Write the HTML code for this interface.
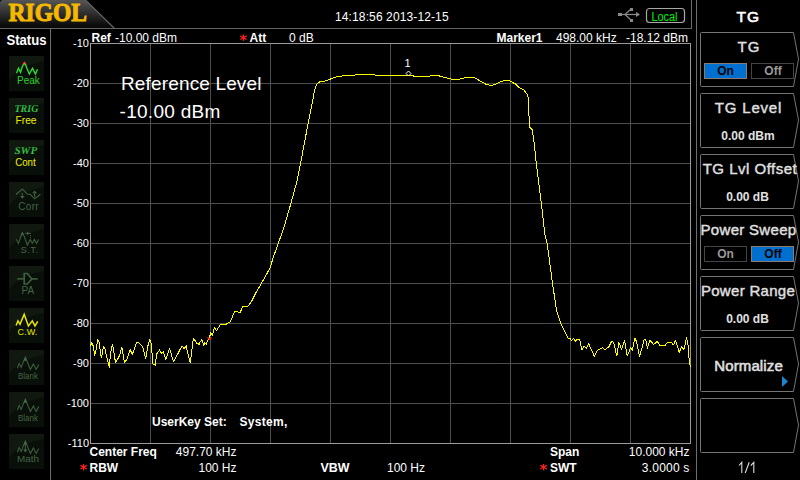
<!DOCTYPE html>
<html><head><meta charset="utf-8"><style>
html,body{margin:0;padding:0;background:#000;}
body{width:800px;height:480px;overflow:hidden;position:relative;font-family:"Liberation Sans", sans-serif;}
svg{position:absolute;left:0;top:0;font-family:"Liberation Sans", sans-serif;}

</style></head><body>
<svg width="800" height="480" viewBox="0 0 800 480">
<defs>
<linearGradient id="tab" x1="0" y1="0" x2="0" y2="1"><stop offset="0" stop-color="#555"/><stop offset="0.9" stop-color="#0c0c0c"/><stop offset="1" stop-color="#080808"/></linearGradient>
<linearGradient id="ib" x1="0" y1="0" x2="1" y2="1"><stop offset="0" stop-color="#142014"/><stop offset="0.5" stop-color="#0b140b"/><stop offset="1" stop-color="#070d07"/></linearGradient>
<linearGradient id="gtxt" x1="0" y1="0" x2="0" y2="1"><stop offset="0" stop-color="#1a8a2a"/><stop offset="1" stop-color="#44dd55"/></linearGradient>
</defs>
<!-- header tab -->
<path d="M0,3 Q0,0 3,0 H85.5 L114,28 H0 Z" fill="url(#tab)"/>
<path d="M85.5,0 L114,28" stroke="#626262" stroke-width="1.2" fill="none"/>
<text x="8.5" y="21" font-family='"Liberation Serif", serif' font-weight="bold" font-size="26" fill="#f5b800" stroke="#f5b800" stroke-width="1" textLength="78.5" lengthAdjust="spacingAndGlyphs">RIGOL</text>
<!-- frame lines -->
<g stroke="#6e6e6e" stroke-width="1" fill="none">
<line x1="0" y1="28.5" x2="691" y2="28.5" stroke="#636363"/>
<line x1="691.5" y1="0" x2="691.5" y2="29"/>
<line x1="50.5" y1="28" x2="50.5" y2="480"/>
<line x1="696.5" y1="0" x2="696.5" y2="480" stroke="#6c706c"/>
</g>
<!-- status icon boxes -->
<rect x="9" y="56" width="35" height="35" fill="#090f09"/><path d="M9,56 H44 V61 Q20,65 9,80 Z" fill="#10180f"/><rect x="9" y="98" width="35" height="35" fill="#090f09"/><path d="M9,98 H44 V103 Q20,107 9,122 Z" fill="#10180f"/><rect x="9" y="140" width="35" height="35" fill="#090f09"/><path d="M9,140 H44 V145 Q20,149 9,164 Z" fill="#10180f"/><rect x="9" y="182" width="35" height="35" fill="#090f09"/><path d="M9,182 H44 V187 Q20,191 9,206 Z" fill="#10180f"/><rect x="9" y="224" width="35" height="35" fill="#090f09"/><path d="M9,224 H44 V229 Q20,233 9,248 Z" fill="#10180f"/><rect x="9" y="266" width="35" height="35" fill="#090f09"/><path d="M9,266 H44 V271 Q20,275 9,290 Z" fill="#10180f"/><rect x="9" y="308" width="35" height="35" fill="#090f09"/><path d="M9,308 H44 V313 Q20,317 9,332 Z" fill="#10180f"/><rect x="9" y="350" width="35" height="35" fill="#090f09"/><path d="M9,350 H44 V355 Q20,359 9,374 Z" fill="#10180f"/><rect x="9" y="392" width="35" height="35" fill="#090f09"/><path d="M9,392 H44 V397 Q20,401 9,416 Z" fill="#10180f"/><rect x="9" y="434" width="35" height="35" fill="#090f09"/><path d="M9,434 H44 V439 Q20,443 9,458 Z" fill="#10180f"/>
<!-- grid -->
<g stroke="#4b4f4b" stroke-width="1"><line x1="150.5" y1="43" x2="150.5" y2="443"/><line x1="210.5" y1="43" x2="210.5" y2="443"/><line x1="270.5" y1="43" x2="270.5" y2="443"/><line x1="330.5" y1="43" x2="330.5" y2="443"/><line x1="390.5" y1="43" x2="390.5" y2="443"/><line x1="450.5" y1="43" x2="450.5" y2="443"/><line x1="510.5" y1="43" x2="510.5" y2="443"/><line x1="570.5" y1="43" x2="570.5" y2="443"/><line x1="630.5" y1="43" x2="630.5" y2="443"/><line x1="90" y1="83.5" x2="690" y2="83.5"/><line x1="90" y1="123.5" x2="690" y2="123.5"/><line x1="90" y1="163.5" x2="690" y2="163.5"/><line x1="90" y1="203.5" x2="690" y2="203.5"/><line x1="90" y1="243.5" x2="690" y2="243.5"/><line x1="90" y1="283.5" x2="690" y2="283.5"/><line x1="90" y1="323.5" x2="690" y2="323.5"/><line x1="90" y1="363.5" x2="690" y2="363.5"/><line x1="90" y1="403.5" x2="690" y2="403.5"/></g>
<rect x="90.5" y="43.5" width="600" height="400" fill="none" stroke="#9a9a9a" stroke-width="1"/>
<!-- trace -->
<polyline points="90.6,345.8 91.6,342.7 92.7,343.8 94.8,355.2 95.8,351.0 97.9,339.6 98.9,341.1 101.0,356.2 101.5,357.3 103.6,346.4 104.7,347.9 107.3,359.4 109.4,367.2 110.4,354.2 112.5,344.3 115.6,363.0 119.2,356.2 121.9,347.4 124.5,363.0 127.1,358.9 130.2,349.5 132.3,354.7 136.4,342.7 139.0,342.7 142.7,346.9 145.8,358.9 147.6,346.9 149.7,339.6 151.2,343.8 152.3,356.2 152.8,364.0 155.4,365.1 156.5,354.2 159.6,350.0 161.7,353.6 163.2,351.6 165.8,359.9 169.5,348.4 173.6,362.0 176.8,355.7 182.0,345.8 184.1,349.0 186.1,345.8 190.3,363.0 193.4,338.0 196.6,343.2 199.2,344.3 200.0,342.2 201.7,339.7 202.5,341.8 203.8,345.1 204.6,343.0 206.2,344.2 207.5,340.9 209.4,337.6 210.4,334.2 210.8,332.6 212.5,335.5 213.8,329.7 214.6,328.0 216.5,330.5 220.6,324.3 225.9,324.3 230.4,321.7 234.8,311.0 240.0,312.8 242.7,306.6 248.0,306.3 251.6,301.3 256.0,292.5 261.3,283.6 270.2,267.7 273.1,257.9 278.3,243.3 283.5,228.8 290.8,203.8 297.1,180.8 301.2,160.0 308.1,123.5 313.4,97.4 314.4,90.5 315.6,86.8 317.5,83.3 318.8,82.4 320.6,81.4 324.4,81.4 330.0,79.2 334.4,77.4 337.5,76.4 341.9,76.1 343.8,75.4 355.6,75.0 356.9,74.4 373.8,74.4 375.0,75.2 412.5,75.2 413.8,76.5 429.4,76.5 430.6,75.2 438.8,75.2 440.0,76.5 444.4,77.2 450.9,79.0 460.4,79.0 465.5,77.6 474.3,77.6 479.4,80.5 485.9,84.2 489.6,85.3 493.9,84.9 501.2,81.5 505.6,80.5 510.0,81.0 515.8,84.2 519.4,87.8 523.8,90.0 526.7,93.6 528.2,97.3 528.9,113.3 529.5,127.0 532.0,129.5 533.8,140.0 536.2,162.5 541.2,202.5 545.0,235.0 547.2,243.5 552.6,284.2 556.7,311.3 560.7,323.5 564.8,331.6 568.3,338.2 570.4,338.8 571.5,340.8 573.5,338.2 575.6,341.4 577.2,339.3 579.8,339.8 581.9,350.2 584.0,346.6 586.6,348.1 588.6,343.4 594.4,356.5 597.0,350.7 602.7,347.6 604.8,349.7 609.0,346.6 611.6,341.4 613.6,342.4 616.8,356.0 618.9,342.4 621.5,349.2 624.6,340.3 627.2,356.0 630.7,347.6 632.3,350.2 634.9,338.2 636.5,341.4 639.6,356.5 644.3,339.3 645.8,339.8 647.4,348.1 650.0,340.3 653.6,344.5 657.3,341.4 660.4,346.0 665.1,345.5 667.2,342.4 671.4,342.4 673.4,345.0 675.5,340.3 679.2,352.3 681.8,346.6 683.9,349.7 686.5,337.7 688.0,345.0 689.1,359.6 690.4,367.4" fill="none" stroke="#ffff00" stroke-width="1" stroke-linejoin="round" shape-rendering="crispEdges"/>
<!-- menu boxes -->
<g stroke="#747474" stroke-width="1" fill="none"><path d="M700.5,33.5 Q700.5,32.5 701.5,32.5 H793.5 L798.5,59.0 L793.5,86.5 H701.5 Q700.5,86.5 700.5,85.5 Z"/><path d="M700.5,94.5 Q700.5,93.5 701.5,93.5 H793.5 L798.5,120.0 L793.5,147.5 H701.5 Q700.5,147.5 700.5,146.5 Z"/><path d="M700.5,155.5 Q700.5,154.5 701.5,154.5 H793.5 L798.5,181.0 L793.5,208.5 H701.5 Q700.5,208.5 700.5,207.5 Z"/><path d="M700.5,216.5 Q700.5,215.5 701.5,215.5 H793.5 L798.5,242.0 L793.5,269.5 H701.5 Q700.5,269.5 700.5,268.5 Z"/><path d="M700.5,277.5 Q700.5,276.5 701.5,276.5 H793.5 L798.5,303.0 L793.5,330.5 H701.5 Q700.5,330.5 700.5,329.5 Z"/><path d="M700.5,338.5 Q700.5,337.5 701.5,337.5 H793.5 L798.5,364.0 L793.5,391.5 H701.5 Q700.5,391.5 700.5,390.5 Z"/><path d="M700.5,399.5 Q700.5,398.5 701.5,398.5 H793.5 L798.5,425.0 L793.5,452.5 H701.5 Q700.5,452.5 700.5,451.5 Z"/></g>
<!-- Local box -->
<rect x="646.5" y="8.5" width="38" height="14" rx="3" fill="none" stroke="#a8a8a8" stroke-width="1.2"/>
<text x="651.5" y="20.5" font-size="12" fill="#00f000" textLength="26" lengthAdjust="spacingAndGlyphs">Local</text>
<!-- usb -->
<g stroke="#8a8a8a" stroke-width="1.2" fill="none">
<line x1="619" y1="14.5" x2="639" y2="14.5"/>
<polyline points="625,14.5 631,9 "/>
<polyline points="625,14.5 631,20"/>
</g>
<rect x="618" y="13" width="4" height="3" fill="#8a8a8a"/>
<rect x="630" y="8" width="3" height="3" fill="#8a8a8a"/>
<rect x="630" y="19" width="3" height="3" fill="#8a8a8a"/>
<path d="M636,12 L640,14.5 L636,17 Z" fill="#8a8a8a"/>
<!-- date -->
<text x="335" y="21" font-size="12" fill="#fff" letter-spacing="0.12">14:18:56 2013-12-15</text>
<!-- header row -->
<g font-size="12" fill="#fff">
<text x="91.5" y="41.5" font-weight="bold">Ref</text>
<text x="115" y="41.5">-10.00 dBm</text>
<g stroke="#ff2020" stroke-width="1.3"><line x1="243.5" y1="34.5" x2="243.5" y2="40.900000000000006"/><line x1="240.3" y1="35.85" x2="246.7" y2="39.550000000000004"/><line x1="240.3" y1="39.550000000000004" x2="246.7" y2="35.85"/></g>
<text x="249.5" y="41.5" font-weight="bold">Att</text>
<text x="289" y="41.5">0 dB</text>
<text x="496.5" y="41.5" font-weight="bold">Marker1</text>
<text x="556" y="41.5">498.00 kHz</text>
<text x="626" y="41.5">-18.12 dBm</text>
</g>
<!-- y labels -->
<g font-size="11" fill="#fff"><text x="89" y="47" text-anchor="end">-10</text><text x="89" y="87" text-anchor="end">-20</text><text x="89" y="127" text-anchor="end">-30</text><text x="89" y="167" text-anchor="end">-40</text><text x="89" y="207" text-anchor="end">-50</text><text x="89" y="247" text-anchor="end">-60</text><text x="89" y="287" text-anchor="end">-70</text><text x="89" y="327" text-anchor="end">-80</text><text x="89" y="367" text-anchor="end">-90</text><text x="89" y="407" text-anchor="end">-100</text><text x="89" y="447" text-anchor="end">-110</text></g>
<!-- Ref level overlay -->
<text x="121" y="90" font-size="19" fill="#fff" letter-spacing="0.15">Reference Level</text>
<text x="119.5" y="117.5" font-size="19" fill="#fff" letter-spacing="0.3">-10.00 dBm</text>
<!-- marker -->
<text x="404.5" y="67" font-size="11" fill="#fff">1</text>
<path d="M408.5,71 L411,73.5 L408.5,76 L406,73.5 Z" fill="none" stroke="#fff" stroke-width="1"/>
<path d="M207.5,337.5 L209.5,339.5 L211.5,337.5" stroke="#ff2020" stroke-width="1.2" fill="none"/>
<!-- userkey -->
<g font-size="12" font-weight="bold" fill="#fff">
<text x="152" y="426">UserKey Set:</text>
<text x="239.5" y="426" letter-spacing="0.3">System,</text>
</g>
<!-- bottom rows -->
<g font-size="12" fill="#fff">
<text x="89.5" y="456" font-weight="bold">Center Freq</text>
<text x="236.5" y="456" text-anchor="end">497.70 kHz</text>
<g stroke="#ff2020" stroke-width="1.3"><line x1="83.6" y1="464.0" x2="83.6" y2="470.4"/><line x1="80.39999999999999" y1="465.34999999999997" x2="86.8" y2="469.05"/><line x1="80.39999999999999" y1="469.05" x2="86.8" y2="465.34999999999997"/></g>
<text x="89.5" y="471.5" font-weight="bold">RBW</text>
<text x="236.5" y="471.5" text-anchor="end">100 Hz</text>
<text x="320.5" y="471.5" font-weight="bold" textLength="29" lengthAdjust="spacingAndGlyphs">VBW</text>
<text x="425" y="471.5" text-anchor="end">100 Hz</text>
<text x="550" y="456" font-weight="bold">Span</text>
<text x="689.5" y="456" text-anchor="end">10.000 kHz</text>
<g stroke="#ff2020" stroke-width="1.3"><line x1="543.6" y1="464.0" x2="543.6" y2="470.4"/><line x1="540.4" y1="465.34999999999997" x2="546.8000000000001" y2="469.05"/><line x1="540.4" y1="469.05" x2="546.8000000000001" y2="465.34999999999997"/></g>
<text x="550" y="471.5" font-weight="bold">SWT</text>
<text x="689.5" y="471.5" text-anchor="end" letter-spacing="0.2">3.0000 s</text>
</g>
<!-- status -->
<text x="6.5" y="45" font-size="14" font-weight="bold" fill="#fff" textLength="40" lengthAdjust="spacingAndGlyphs">Status</text>
<!-- menu text -->
<g fill="#e0e0e0" text-anchor="middle" stroke="#e0e0e0" stroke-width="0.4">
<text x="748.3" y="22" font-size="15.5" fill="#fff" stroke="#fff" stroke-width="0.6" letter-spacing="1">TG</text>
<text x="749" y="52" font-size="15" letter-spacing="1">TG</text>
<text x="748.5" y="112.5" font-size="15" letter-spacing="0.8">TG Level</text>
<text x="748" y="139.5" font-size="12" font-weight="bold" stroke="none">0.00 dBm</text>
<text x="750" y="173.5" font-size="15" letter-spacing="0.5">TG Lvl Offset</text>
<text x="747.5" y="200.5" font-size="12" font-weight="bold" stroke="none">0.00 dB</text>
<text x="748.5" y="234.5" font-size="15" letter-spacing="0.3">Power Sweep</text>
<text x="748" y="295.5" font-size="15" letter-spacing="0.3">Power Range</text>
<text x="747.5" y="322.5" font-size="12" font-weight="bold" stroke="none">0.00 dB</text>
<text x="748.5" y="370.5" font-size="15" stroke-width="0.55" textLength="68.5" lengthAdjust="spacing">Normalize</text>

</g>
<path d="M739,465.5 L741.8,462.3 V473 M745.2,473 L749.2,462.3 M750.8,465.5 L753.8,462.3 V473" stroke="#dcdcdc" stroke-width="1.1" fill="none"/>
<!-- buttons -->
<rect x="704.5" y="63.5" width="42" height="15" fill="#0070d0" stroke="#8a7a70" stroke-width="1"/>
<text x="725.5" y="75" font-size="12" font-weight="bold" fill="#000" text-anchor="middle">On</text>
<rect x="751.5" y="63.5" width="42" height="15" fill="#000" stroke="#444" stroke-width="1"/>
<text x="773" y="75" font-size="12" font-weight="bold" fill="#999" text-anchor="middle">Off</text>
<rect x="704.5" y="246.5" width="42" height="15" fill="#000" stroke="#444" stroke-width="1"/>
<text x="725.5" y="258" font-size="12" font-weight="bold" fill="#999" text-anchor="middle">On</text>
<rect x="751.5" y="246.5" width="42" height="15" fill="#0070d0" stroke="#8a7a70" stroke-width="1"/>
<text x="773" y="258" font-size="12" font-weight="bold" fill="#000" text-anchor="middle">Off</text>
<path d="M782,376 L788,381.5 L782,387 Z" fill="#1a85d0"/>
<!-- status icons content -->
<g transform="translate(9,56)">
<polyline points="7.5,17.3 9.5,12.3 11.5,16.3 13.3,10.7 14.5,8.3 16.5,8.3 17.7,11.7 20.3,18 23.5,12.3 26.5,18 28.5,13.3" fill="none" stroke="#30d838" stroke-width="1.4"/>
<path d="M15.5,5.6 L16.3,6.6 L17.3,7.3 L16.3,8 L15.5,9 L14.7,8 L13.7,7.3 L14.7,6.6 Z" fill="#ff4a3a"/>
<text x="8" y="28" font-size="10" fill="#30d030">Peak</text>
</g>
<g transform="translate(9,98)">
<text x="5.5" y="13.5" font-family='"Liberation Serif", serif' font-weight="bold" font-style="italic" font-size="10" fill="url(#gtxt)">TRIG</text>
<text x="6.5" y="25.5" font-size="11" fill="#eeee00" textLength="21" lengthAdjust="spacingAndGlyphs">Free</text>
</g>
<g transform="translate(9,140)">
<text x="5.5" y="13.5" font-family='"Liberation Serif", serif' font-weight="bold" font-style="italic" font-size="11" fill="url(#gtxt)">SWP</text>
<text x="6.2" y="25.5" font-size="11" fill="#eeee00" textLength="20.5" lengthAdjust="spacingAndGlyphs">Cont</text>
</g>
<g transform="translate(9,182)" stroke="#3f5e3f" fill="none" stroke-width="1.1">
<polyline points="7,12.5 13.3,7 18.5,12.3 21.2,12.3 25.6,16.8 31.4,12.3"/>
<line x1="13.3" y1="11" x2="13.3" y2="15"/><path d="M10.8,14 H15.8 L13.3,16.8 Z" fill="#3f5e3f" stroke="none"/>
<line x1="25.6" y1="11" x2="25.6" y2="15"/><path d="M23.1,11.2 H28.1 L25.6,8.4 Z" fill="#3f5e3f" stroke="none"/>
<text x="9.3" y="28" font-size="10" fill="#446444" stroke="none" letter-spacing="0.3">Corr</text>
</g>
<g transform="translate(9,224)" stroke="#3f5e3f" fill="none" stroke-width="1.1">
<polyline points="7.3,15.25 9.4,19.4 11.7,13 13.3,8.6 15.4,12.75 18.3,21.1 21.25,15.5 23.3,19.4 25.4,15.5 27.5,19.4 29.6,15.5"/>
<path d="M12,10.8 L13.3,8.2 L14.8,10.8 Z" fill="#4a6a4a" stroke="none"/>
<line x1="16.2" y1="9.4" x2="21.8" y2="9.4"/><path d="M17.6,7 L20,9.4 L17.6,11.8 L18.6,9.4 Z" fill="#4a6a4a" stroke="none"/>
<rect x="21" y="11" width="1" height="1" fill="#3f5e3f" stroke="none"/><rect x="21" y="13" width="1" height="1" fill="#3f5e3f" stroke="none"/>
<text x="11.5" y="28.7" font-size="9.5" fill="#446444" stroke="none" letter-spacing="0.4">S.T.</text>
</g>
<g transform="translate(9,266)" stroke="#3f5e3f" fill="none" stroke-width="1.6">
<line x1="8.3" y1="12.9" x2="15" y2="12.9"/><line x1="23" y1="12.9" x2="28.7" y2="12.9"/>
<path d="M15.2,7.5 H18.3 L22.9,12.9 L18.3,18 H15.2 Z"/>
<text x="12.5" y="28" font-size="10" fill="#446444" stroke="none">PA</text>
</g>
<g transform="translate(9,308)">
<polyline points="7.1,17.5 9,12.9 11,16.3 15.2,6.3 19.4,17.9 23.3,12.9 26,17.9 28.7,13.3" fill="none" stroke="#e8e800" stroke-width="1.5"/>
<text x="8.6" y="27" font-size="9" fill="#e8e800" textLength="19.7" lengthAdjust="spacing">C.W.</text>
</g>
<g transform="translate(9,350)" stroke="#3f5e3f" fill="none" stroke-width="1.1">
<polyline points="8.3,18.3 10.2,13.6 12.1,17.5 16.3,7.1 21.4,19.4 24.4,14 27.1,19.4 29.8,14.4"/>
<path d="M14.6,10.8 L16.3,7 L18,10.8 Z" fill="#4a6a4a" stroke="none"/>
<text x="9" y="28.7" font-size="9.5" fill="#446444" stroke="none" textLength="20" lengthAdjust="spacingAndGlyphs">Blank</text>
</g>
<g transform="translate(9,392)" stroke="#3f5e3f" fill="none" stroke-width="1.1">
<polyline points="8.3,18.3 10.2,13.6 12.1,17.5 16.3,7.1 21.4,19.4 24.4,14 27.1,19.4 29.8,14.4"/>
<path d="M14.6,10.8 L16.3,7 L18,10.8 Z" fill="#4a6a4a" stroke="none"/>
<text x="9" y="28.7" font-size="9.5" fill="#446444" stroke="none" textLength="20" lengthAdjust="spacingAndGlyphs">Blank</text>
</g>
<g transform="translate(9,434)" stroke="#3f5e3f" fill="none" stroke-width="1.1">
<polyline points="8.3,18.3 10.2,13.6 12.1,17.5 16.3,7.1 21.4,19.4 24.4,14 27.1,19.4 29.8,14.4"/>
<path d="M14.6,10.8 L16.3,7 L18,10.8 Z" fill="#4a6a4a" stroke="none"/><line x1="16.3" y1="10" x2="16.3" y2="16.5"/><path d="M14,15.5 H18.6 L16.3,18.5 Z" fill="#446444" stroke="none"/>
<text x="8" y="28" font-size="9.5" fill="#446444" stroke="none" textLength="22" lengthAdjust="spacingAndGlyphs">Math</text>
</g>
</svg>
</body></html>
